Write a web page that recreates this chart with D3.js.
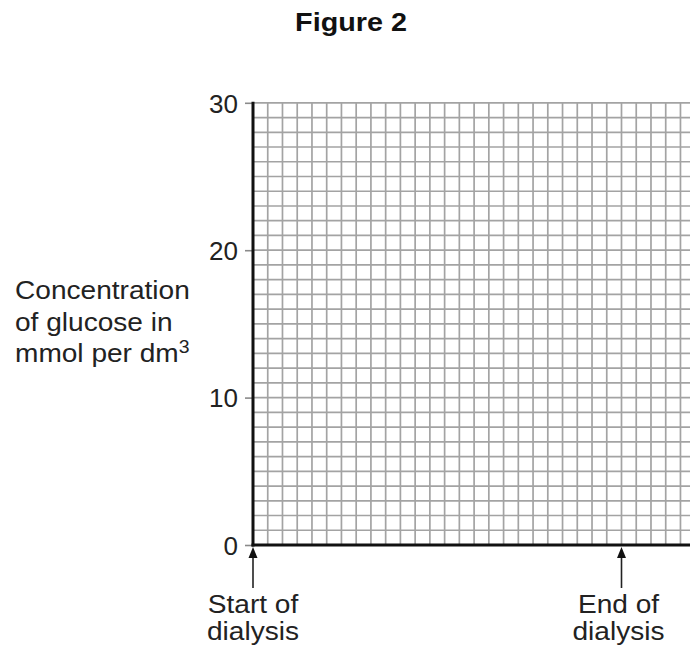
<!DOCTYPE html>
<html>
<head>
<meta charset="utf-8">
<script src="https://cdn.jsdelivr.net/npm/d3@7"></script>
<style>
  html, body { margin: 0; padding: 0; background: #fff; }
  svg { display: block; }
  text { font-family: "Liberation Sans", Arial, sans-serif; fill: #222; }
</style>
</head>
<body>
<script>
// ---- data ----
const title = "Figure 2";
const yTicks = [0, 10, 20, 30];
const yDomain = [0, 30];
const xDomain = [0, 30];
const gridStep = 1;
const yLabelLines = ["Concentration", "of glucose in", "mmol per dm"];
const yLabelSup = "3";
const markerPositions = [0, 25];
const markerLabels = [["Start of", "dialysis"], ["End of", "dialysis"]];

// ---- layout ----
const W = 690, H = 652;
const x0 = 253, y0 = 545, unit = 14.74;
const svg = d3.select("body").append("svg").attr("width", W).attr("height", H);

const x = d3.scaleLinear().domain(xDomain).range([x0, x0 + unit * (xDomain[1] - xDomain[0])]);
const y = d3.scaleLinear().domain(yDomain).range([y0, y0 - unit * (yDomain[1] - yDomain[0])]);

const stretch = 1.08;
function stretchedText(g, tx, ty, str, size, anchor, weight, sx) {
  return g.append("text")
    .attr("transform", `translate(${tx},${ty}) scale(${sx || stretch},1)`)
    .attr("text-anchor", anchor || "start")
    .attr("font-size", size)
    .attr("font-weight", weight || "normal")
    .text(str);
}

// title
stretchedText(svg, 351, 31, title, 25, "middle", "bold", 1.15).style("fill", "#111");

// grid
const gridX = d3.range(xDomain[0] + gridStep, xDomain[1] + gridStep / 2, gridStep);
const gridY = d3.range(yDomain[0] + gridStep, yDomain[1] + gridStep / 2, gridStep);
const grid = svg.append("g").attr("stroke", "#a3a3a3").attr("stroke-width", 1.7);
grid.selectAll("line.v").data(gridX).join("line").attr("class", "v")
  .attr("x1", d => x(d)).attr("x2", d => x(d))
  .attr("y1", y(yDomain[1])).attr("y2", y(yDomain[0]));
grid.selectAll("line.h").data(gridY).join("line").attr("class", "h")
  .attr("x1", x(xDomain[0])).attr("x2", x(xDomain[1]))
  .attr("y1", d => y(d)).attr("y2", d => y(d));

// y axis
const yAxis = d3.axisLeft(y).tickValues(yTicks).tickSize(8).tickPadding(7).tickFormat(d3.format("d"));
const gy = svg.append("g").attr("transform", `translate(${x0},0)`).call(yAxis);
gy.select(".domain").remove();
gy.selectAll(".tick line").attr("stroke", "#8a8a8a").attr("stroke-width", 1.6);
gy.selectAll(".tick text")
  .attr("font-size", 26)
  .attr("font-family", "Liberation Sans, Arial, sans-serif")
  .attr("fill", "#222")
  .attr("dy", "0.36em");

// axes lines
svg.append("line").attr("x1", x0).attr("x2", x0).attr("y1", y(yDomain[1]) - 1).attr("y2", y0 + 1.5)
  .attr("stroke", "#111").attr("stroke-width", 3);
svg.append("line").attr("x1", x0 - 1.5).attr("x2", W + 10).attr("y1", y0).attr("y2", y0)
  .attr("stroke", "#111").attr("stroke-width", 3);

// y label
const yl = svg.append("g");
const lineYs = [299, 331, 362];
yLabelLines.forEach((s, i) => {
  const t = stretchedText(yl, 15, lineYs[i], s, 26, "start");
  if (i === yLabelLines.length - 1) {
    t.append("tspan").attr("font-size", 18).attr("dy", -9).text(yLabelSup);
  }
});

// markers
const mk = svg.selectAll("g.marker").data(markerPositions).join("g").attr("class", "marker");
mk.append("line")
  .attr("x1", d => x(d)).attr("x2", d => x(d))
  .attr("y1", 588).attr("y2", y0 + 10)
  .attr("stroke", "#222").attr("stroke-width", 1.6);
mk.append("path")
  .attr("d", d => `M${x(d)},${y0 + 2} L${x(d) - 4.5},${y0 + 13} L${x(d) + 4.5},${y0 + 13} Z`)
  .attr("fill", "#111");
mk.each(function (d, i) {
  const g = d3.select(this);
  markerLabels[i].forEach((s, j) => {
    stretchedText(g, x(d) - (i === 1 ? 3 : 0), 613 + j * 27, s, 26, "middle");
  });
});
</script>
</body>
</html>
